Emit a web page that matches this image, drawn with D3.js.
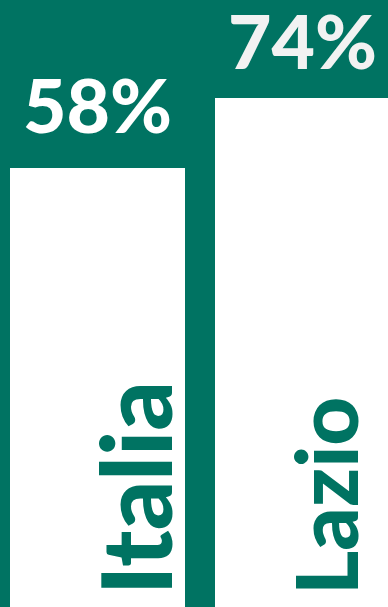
<!DOCTYPE html>
<html><head><meta charset="utf-8">
<script src="https://cdn.jsdelivr.net/npm/d3@7"></script>
<style>html,body{margin:0;padding:0;background:#007362;overflow:hidden}</style>
</head><body>
<svg id="c" width="388" height="607"></svg>
<script>
const categories = ["Italia", "Lazio"];
const values = [58, 74];
const valueLabels = ["58%", "74%"];

const W = 388, H = 607;
const green = "#007362";
const svg = d3.select("#c");
svg.append("rect").attr("width", W).attr("height", H).attr("fill", green);

const x = d3.scaleBand().domain(categories).range([10, 390]).paddingInner(30/205).paddingOuter(0);
const y = d3.scaleLinear().domain([-42.34, 96.4]).range([H, 0]);

// style settings (not data)
const labelStyle = {
  Italia: {size: 97, baseDx: 162, fill: "#ffffff", gap: 35},
  Lazio: {size: 85, baseDx: 143, fill: "#f2f2f2", gap: 29}
};

const g = svg.append("g");
categories.forEach((c, i) => {
  const bx = x(c), bw = x.bandwidth();
  g.append("rect").attr("x", bx).attr("y", y(values[i])).attr("width", bw)
    .attr("height", H - y(values[i])).attr("fill", "#ffffff");
  g.append("text").attr("x", bx + bw / 2).attr("y", y(values[i]) - labelStyle[c].gap)
    .attr("text-anchor", "middle").attr("font-family", "Lato").attr("font-weight", 900)
    .attr("font-size", 75).attr("fill", labelStyle[c].fill).text(valueLabels[i]);
  const lx = bx + labelStyle[c].baseDx, ly = 595;
  g.append("text").attr("transform", `translate(${lx},${ly}) rotate(-90)`)
    .attr("text-anchor", "start").attr("font-family", "Lato").attr("font-weight", 900)
    .attr("font-size", labelStyle[c].size).attr("fill", green).text(c);
});
</script>
</body></html>
